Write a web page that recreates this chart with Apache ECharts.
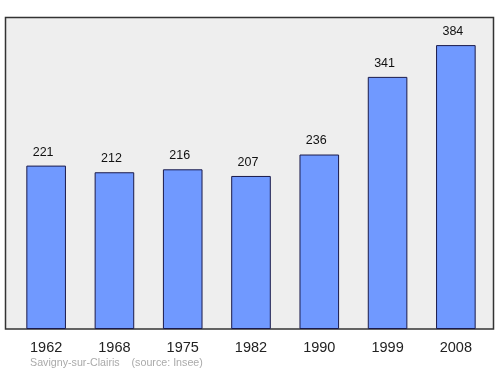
<!DOCTYPE html>
<html><head><meta charset="utf-8">
<script src="https://cdn.jsdelivr.net/npm/echarts@6/dist/echarts.min.js"></script>
<style>html,body{margin:0;padding:0;background:#fff}#c{width:500px;height:374px}</style>
</head><body><div id="c"></div>
<script>
const years = ['1962','1968','1975','1982','1990','1999','2008'];
const population = [221, 212, 216, 207, 236, 341, 384];
const sourceText = 'Savigny-sur-Clairis    (source: Insee)';

const chart = echarts.init(document.getElementById('c'), null, {renderer:'canvas'});
chart.setOption({
  animation: false,
  backgroundColor: '#ffffff',
  graphic: [
    {type:'rect', z:0, shape:{x:5.5, y:17.5, width:488, height:311.5},
     style:{fill:'#eeeeee', stroke:'#333333', lineWidth:1.5}},
    {type:'text', left:30, top:358, z:5,
     style:{text:sourceText, fill:'#aaaaaa', font:'10.7px "Liberation Sans", Arial, sans-serif'}}
  ],
  grid: {left:12, right:10, top:17, bottom:45, containLabel:false},
  xAxis: {
    type:'category', data: years,
    axisLine:{show:false}, axisTick:{show:false},
    axisLabel:{color:'#222', fontSize:14.5, margin:11, fontFamily:'Liberation Sans, Arial, sans-serif'}
  },
  yAxis: {type:'value', min:0, max:422, show:false, splitLine:{show:false}},
  series: [{
    type:'bar', data: population, barWidth:'58%', z:3,
    itemStyle:{color:'#7099ff', borderColor:'#1a1a4a', borderWidth:1},
    label:{show:true, position:'top', distance:7, offset:[-3,0], color:'#111', fontSize:12.5,
           fontFamily:'Liberation Sans, Arial, sans-serif'}
  }]
});
</script></body></html>
